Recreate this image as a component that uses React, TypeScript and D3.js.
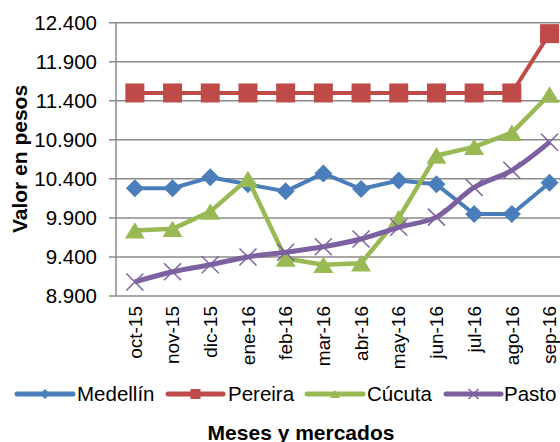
import React from "react";
import * as d3 from "d3";

const months = ["oct-15","nov-15","dic-15","ene-16","feb-16","mar-16","abr-16","may-16","jun-16","jul-16","ago-16","sep-16"];
const medellin = [10280,10280,10420,10330,10240,10470,10270,10380,10330,9950,9950,10350];
const pereira = [11500,11500,11500,11500,11500,11500,11500,11500,11500,11500,11500,12260];
const cucuta = [9740,9760,9980,10400,9380,9300,9320,9900,10700,10810,10990,11480];
const pasto = [9080,9210,9300,9400,9460,9530,9630,9780,9910,10290,10510,10870];
const yTicks = [8900,9400,9900,10400,10900,11400,11900,12400];
const yTickLabels = ["8.900","9.400","9.900","10.400","10.900","11.400","11.900","12.400"];

const W = 560, H = 442;
const FONT = "'Liberation Sans', Arial, sans-serif";

const series = [
  { name: "Medellín", values: medellin, color: "#4A7EBB", marker: "diamond", width: 4, smooth: false },
  { name: "Pereira", values: pereira, color: "#BE4B48", marker: "square", width: 4, smooth: false },
  { name: "Cúcuta", values: cucuta, color: "#98B954", marker: "triangle", width: 4.5, smooth: false },
  { name: "Pasto", values: pasto, color: "#7D60A0", marker: "x", width: 5, smooth: true },
];

function Marker({ type, cx, cy, color, s }: { type: string; cx: number; cy: number; color: string; s: number }) {
  const h = s / 2;
  if (type === "diamond") {
    return <path d={`M${cx},${cy - h}L${cx + h},${cy}L${cx},${cy + h}L${cx - h},${cy}Z`} fill={color} />;
  }
  if (type === "square") {
    return <rect x={cx - h} y={cy - h} width={s} height={s} fill={color} />;
  }
  if (type === "triangle") {
    const th = s * 0.82;
    return <path d={`M${cx},${cy - th / 2}L${cx + h},${cy + th / 2}L${cx - h},${cy + th / 2}Z`} fill={color} />;
  }
  return (
    <g stroke={color} strokeWidth={1.5}>
      <line x1={cx - h} y1={cy - h} x2={cx + h} y2={cy + h} />
      <line x1={cx - h} y1={cy + h} x2={cx + h} y2={cy - h} />
    </g>
  );
}

export default function App() {
  const x = d3.scaleBand<string>().domain(months).range([116, 116 + 12 * 37.7]).padding(0);
  const cxOf = (m: string) => (x(m) as number) + x.bandwidth() / 2;
  const y = d3.scaleLinear().domain([8900, 12400]).range([296, 22.7]);

  const legendItems = [
    { x1: 17, x2: 73, tx: 77 },
    { x1: 168, x2: 223, tx: 228 },
    { x1: 307, x2: 363, tx: 367 },
    { x1: 446, x2: 501, tx: 504 },
  ];
  const legendY = 394;

  return (
    <svg width={W} height={H} style={{ position: "absolute", left: 0, top: 0, background: "#fff" }} fontFamily={FONT}>
      {/* gridlines */}
      {yTicks.map((t, i) => (
        <g key={t}>
          <line x1={109} x2={W} y1={y(t)} y2={y(t)} stroke="#8a8a8a" strokeWidth={1.5} />
          <text x={97} y={y(t)} dy="0.35em" textAnchor="end" fontSize={20.5} fill="#000">{yTickLabels[i]}</text>
        </g>
      ))}
      <line x1={116} x2={116} y1={y(12400)} y2={y(8900)} stroke="#8a8a8a" strokeWidth={1.5} />

      {/* x labels */}
      {months.map((m) => (
        <text key={m} transform={`translate(${cxOf(m)},306) rotate(-90)`} dy="0.35em" textAnchor="end" fontSize={19} fill="#000">{m}</text>
      ))}

      {/* series */}
      {series.map((s) => {
        const line = d3.line<number>()
          .x((_, i) => cxOf(months[i]))
          .y((v) => y(v))
          .curve(s.smooth ? d3.curveCatmullRom.alpha(0.5) : d3.curveLinear);
        const ms = s.marker === "square" ? 19 : s.marker === "diamond" ? 18 : s.marker === "triangle" ? 20 : 17;
        return (
          <g key={s.name}>
            <path d={line(s.values) || ""} fill="none" stroke={s.color} strokeWidth={s.width} strokeLinejoin="round" />
            {s.values.map((v, i) => (
              <Marker key={i} type={s.marker} cx={cxOf(months[i])} cy={y(v)} color={s.color} s={ms} />
            ))}
          </g>
        );
      })}

      {/* y title */}
      <text transform={`translate(27,159) rotate(-90)`} textAnchor="middle" fontSize={21} fontWeight="bold" fill="#000">Valor en pesos</text>

      {/* legend */}
      {series.map((s, i) => {
        const li = legendItems[i];
        const mx = (li.x1 + li.x2) / 2;
        return (
          <g key={s.name}>
            <line x1={li.x1} x2={li.x2} y1={legendY} y2={legendY} stroke={s.color} strokeWidth={5} strokeLinecap="round" />
            <Marker type={s.marker} cx={mx} cy={legendY} color={s.color} s={10} />
            <text x={li.tx} y={legendY} dy="0.35em" fontSize={20.5} fill="#000">{s.name}</text>
          </g>
        );
      })}

      {/* x title */}
      <text x={301} y={440} textAnchor="middle" fontSize={21} fontWeight="bold" fill="#000">Meses y mercados</text>
    </svg>
  );
}
